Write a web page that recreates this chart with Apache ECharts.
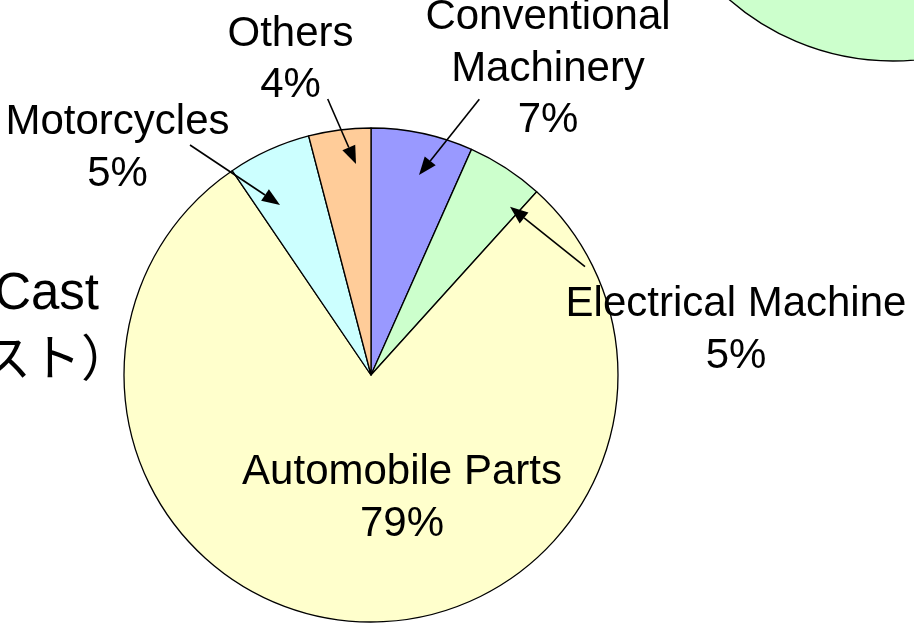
<!DOCTYPE html>
<html>
<head>
<meta charset="utf-8">
<script src="https://cdn.jsdelivr.net/npm/echarts@6/dist/echarts.min.js"></script>
<style>html,body{margin:0;padding:0;background:#fff;}#c{width:914px;height:625px;}</style>
</head>
<body>
<div id="c"></div>
<script>
// Data (clockwise from 12 o'clock)
var categories = ['Conventional\nMachinery', 'Electrical Machine', 'Automobile Parts', 'Motorcycles', 'Others'];
var shares = [6.67, 5.03, 78.8, 5.44, 4.06];
var sliceColors = ['#9999FF', '#CCFFCC', '#FFFFCC', '#CCFFFF', '#FFCC99'];

// label layout (center x, top y) per slice
var labelPos = [[548, -8], [736, 279], [402, 447], [117.5, 97], [290.5, 8.5]];
// callout arrows: [fromX, fromY, toX, toY]
var arrows = [[479.3, 99.3, 419, 175], [585, 266.7, 510, 206.7], [190, 145, 280, 205], [327.7, 99, 356, 164]];

function arrowGraphic(a) {
  var x1 = a[0], y1 = a[1], x2 = a[2], y2 = a[3];
  var dx = x2 - x1, dy = y2 - y1, L = Math.sqrt(dx * dx + dy * dy);
  var ux = dx / L, uy = dy / L, px = -uy, py = ux;
  var hl = 18, hw = 7;
  var bx = x2 - ux * hl, by = y2 - uy * hl;
  return [
    { type: 'line', silent: true, z: 100, shape: { x1: x1, y1: y1, x2: bx, y2: by }, style: { stroke: '#000', lineWidth: 1.6 } },
    { type: 'polygon', silent: true, z: 100, shape: { points: [[x2, y2], [bx + px * hw, by + py * hw], [bx - px * hw, by - py * hw]] }, style: { fill: '#000' } }
  ];
}

var graphics = [
  { type: 'ellipse', silent: true, z: 100, shape: { cx: 893, cy: -188, rx: 249, ry: 249 }, style: { fill: '#CCFFCC', stroke: '#000', lineWidth: 1.4 } },
  { type: 'text', silent: true, z: 100, x: 99, y: 269.6, style: { text: 'Cast', font: '51px "Liberation Sans", Arial, sans-serif', fill: '#000', textAlign: 'right', textVerticalAlign: 'top' } },
  { type: 'text', silent: true, z: 100, x: 131, y: 332.5, style: { text: '（ダイカスト）', font: '50px "Noto Sans CJK JP", sans-serif', fill: '#000', textAlign: 'right', textVerticalAlign: 'top' } }
];
arrows.forEach(function (a) { graphics = graphics.concat(arrowGraphic(a)); });

var chart = echarts.init(document.getElementById('c'), null, { renderer: 'canvas' });
chart.setOption({
  animation: false,
  backgroundColor: '#fff',
  series: [{
    type: 'pie',
    center: [371, 375],
    radius: 247,
    startAngle: 90,
    clockwise: true,
    avoidLabelOverlap: false,
    silent: true,
    z: 2,
    emphasis: { disabled: true },
    itemStyle: { borderColor: '#000', borderWidth: 1.3 },
    label: {
      show: true,
      position: 'outside',
      fontFamily: '"Liberation Sans", Arial, sans-serif',
      fontSize: 42,
      lineHeight: 51.5,
      color: '#000',
      align: 'center',
      formatter: function (p) { return p.name + '\n' + Math.round(p.percent) + '%'; }
    },
    labelLine: { show: false },
    labelLayout: function (p) {
      var pos = labelPos[p.dataIndex];
      return { x: pos[0], y: pos[1], align: 'center', verticalAlign: 'top' };
    },
    data: categories.map(function (c, i) {
      return { name: c, value: shares[i], itemStyle: { color: sliceColors[i] } };
    })
  }],
  graphic: graphics
});
</script>
</body>
</html>
